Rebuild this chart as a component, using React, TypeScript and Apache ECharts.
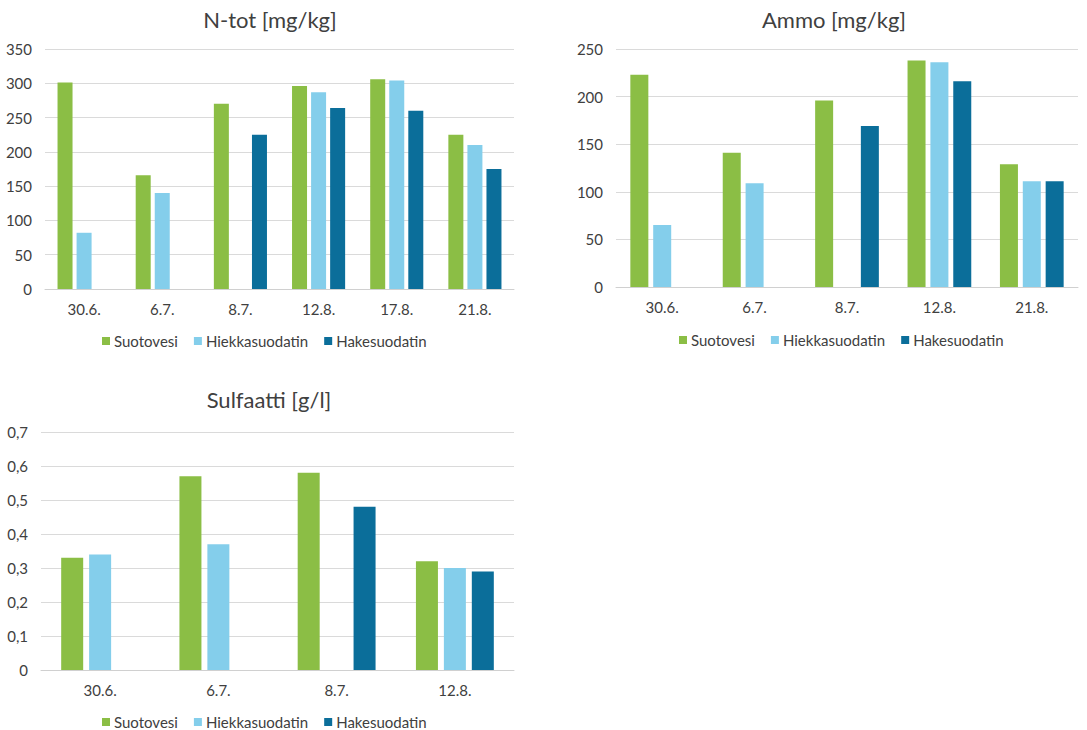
import React, { useEffect, useRef } from "react";
import * as echarts from "echarts";

// Series names shared by all three panels
const seriesNames = ["Suotovesi", "Hiekkasuodatin", "Hakesuodatin"];
const seriesColors = ["#8BBE45", "#84CEEB", "#0B6E9A"];

// N-tot [mg/kg]
const ntotDates = ["30.6.", "6.7.", "8.7.", "12.8.", "17.8.", "21.8."];
const ntotSuotovesi = [301, 166, 270, 296, 306, 225];
const ntotHiekka = [82, 140, null, 287, 304, 210];
const ntotHake = [null, null, 225, 264, 260, 175];

// Ammo [mg/kg]
const ammoDates = ["30.6.", "6.7.", "8.7.", "12.8.", "21.8."];
const ammoSuotovesi = [223, 141, 196, 238, 129];
const ammoHiekka = [65, 109, null, 236, 111];
const ammoHake = [null, null, 169, 216, 111];

// Sulfaatti [g/l]
const sulfDates = ["30.6.", "6.7.", "8.7.", "12.8."];
const sulfSuotovesi = [0.33, 0.57, 0.58, 0.32];
const sulfHiekka = [0.34, 0.37, null, 0.3];
const sulfHake = [null, null, 0.48, 0.29];

const FONT = "Lato, 'Open Sans', sans-serif";
const TEXT = "#404040";

export default function App() {
  const ref = useRef<HTMLDivElement>(null);

  useEffect(() => {
    if (!ref.current) return;
    const chart = echarts.init(ref.current, undefined, { renderer: "svg" });

    const grids = [
      { left: 45, top: 49, width: 469, height: 240 },
      { left: 616, top: 49, width: 462, height: 238 },
      { left: 41, top: 432, width: 473, height: 238 },
    ];

    const titles = [
      { text: "N-tot [mg/kg]", left: 270, top: 19 },
      { text: "Ammo [mg/kg]", left: 834, top: 19 },
      { text: "Sulfaatti [g/l]", left: 269, top: 399 },
    ].map((t) => ({
      text: t.text,
      left: t.left,
      top: t.top,
      textAlign: "center",
      textVerticalAlign: "middle",
      padding: 0,
      textStyle: { fontFamily: FONT, fontSize: 22, fontWeight: "normal", color: TEXT },
    }));

    // legend boxes, positioned by their left edge and vertical centre
    const legends = [
      { left: 102, cy: 341 },
      { left: 679, cy: 340 },
      { left: 102, cy: 722 },
    ].map((l) => ({
      data: seriesNames,
      left: l.left,
      top: l.cy - 9,
      padding: 0,
      orient: "horizontal",
      itemWidth: 8,
      itemHeight: 8,
      itemGap: 16,
      icon: "rect",
      textStyle: { fontFamily: FONT, fontSize: 15, color: TEXT, padding: [0, 0, 0, -1], lineHeight: 18 },
    }));

    const catAxis = (data: string[], gridIndex: number) => ({
      type: "category",
      gridIndex,
      data,
      axisTick: { show: false },
      axisLine: { lineStyle: { color: "#D0D0D0", width: 1 } },
      axisLabel: { fontFamily: FONT, fontSize: 15, color: TEXT, margin: 12 },
    });

    const valAxis = (gridIndex: number, max: number, interval: number, fmt?: (v: number) => string) => ({
      type: "value",
      gridIndex,
      min: 0,
      max,
      interval,
      axisLine: { show: false },
      axisTick: { show: false },
      splitLine: { lineStyle: { color: "#DADADA", width: 1 } },
      axisLabel: { fontFamily: FONT, fontSize: 15, color: TEXT, margin: 13, formatter: fmt },
    });

    const commaFmt = (v: number) => (v === 0 ? "0" : v.toFixed(1).replace(".", ","));

    const panels = [
      { data: [ntotSuotovesi, ntotHiekka, ntotHake], barWidth: 15 },
      { data: [ammoSuotovesi, ammoHiekka, ammoHake], barWidth: 18 },
      { data: [sulfSuotovesi, sulfHiekka, sulfHake], barWidth: 22 },
    ];

    const series: any[] = [];
    panels.forEach((p, gi) => {
      p.data.forEach((values, si) => {
        series.push({
          type: "bar",
          name: seriesNames[si],
          xAxisIndex: gi,
          yAxisIndex: gi,
          data: values,
          barWidth: p.barWidth,
          barGap: "27%",
          itemStyle: { color: seriesColors[si] },
        });
      });
    });

    chart.setOption({
      animation: false,
      backgroundColor: "#ffffff",
      title: titles,
      legend: legends,
      grid: grids,
      xAxis: [catAxis(ntotDates, 0), catAxis(ammoDates, 1), catAxis(sulfDates, 2)],
      yAxis: [valAxis(0, 350, 50), valAxis(1, 250, 50), valAxis(2, 0.7, 0.1, commaFmt)],
      series,
    });

    return () => chart.dispose();
  }, []);

  return (
    <div
      ref={ref}
      style={{ position: "absolute", left: 0, top: 0, width: 1087, height: 730, background: "#fff" }}
    />
  );
}
